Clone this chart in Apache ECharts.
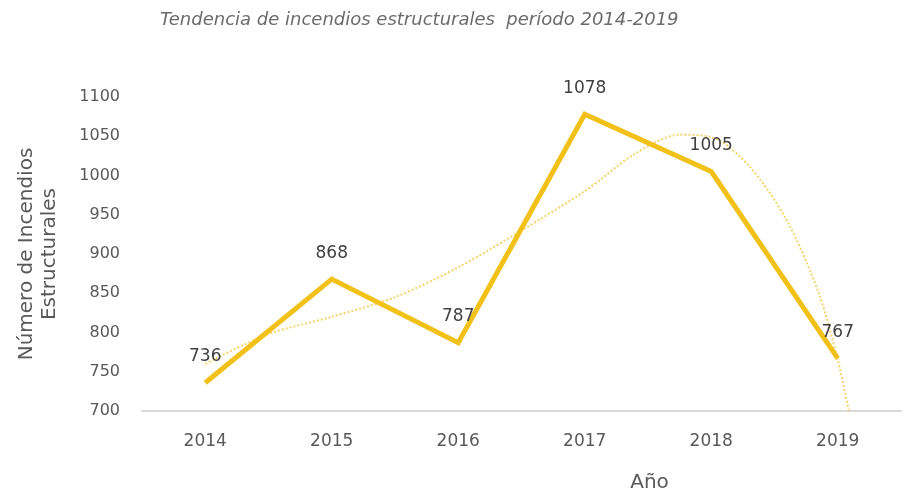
<!DOCTYPE html>
<html>
<head>
<meta charset="utf-8">
<script src="https://cdn.jsdelivr.net/npm/echarts@6/dist/echarts.min.js"></script>
<style>html,body{margin:0;padding:0;background:#fff}#c{width:913px;height:493px}</style>
</head>
<body>
<div id="c"></div>
<script>
var years = ['2014', '2015', '2016', '2017', '2018', '2019'];
var incendios = [736, 868, 787, 1078, 1005, 767];
// dotted polynomial trend line at (year position, value)
var trendX = [2014.0, 2014.5, 2015.0, 2015.5, 2016.0, 2016.5, 2017.0, 2017.4, 2017.75, 2018.0, 2018.3, 2018.6, 2018.85, 2019.0, 2019.1];
var trendY = [760, 798, 820, 845, 883, 930, 980, 1028, 1052, 1049, 1012, 942, 850, 765, 690];
var yTicks = { min: 700, max: 1100, interval: 50 };

var trend = trendX.map(function (x, i) { return [x, trendY[i]]; });

var chart = echarts.init(document.getElementById('c'));
chart.setOption({
  backgroundColor: '#fff',
  animation: false,
  title: {
    text: 'Tendencia de incendios estructurales  período 2014-2019',
    left: 155, top: 6,
    textStyle: { fontFamily: 'DejaVu Sans', fontStyle: 'italic', fontWeight: 'normal', fontSize: 18, color: '#6b6b6b' }
  },
  grid: { left: 142, right: 12, top: 97, bottom: 82, containLabel: false, outerBoundsMode: 'none' },
  xAxis: [{
    type: 'category',
    data: years,
    boundaryGap: true,
    axisLine: { lineStyle: { color: '#d9d9d9', width: 2 } },
    axisTick: { show: false },
    axisLabel: { color: '#595959', fontFamily: 'DejaVu Sans', fontSize: 17, margin: 22 },
    name: 'Año',
    nameLocation: 'middle',
    nameGap: 62,
    nameTextStyle: { color: '#595959', fontFamily: 'DejaVu Sans', fontSize: 20, padding: [0, 0, 0, 256] }
  }, {
    type: 'value',
    min: 2013.5, max: 2019.5,
    show: false
  }],
  yAxis: {
    type: 'value',
    min: yTicks.min, max: yTicks.max, interval: yTicks.interval,
    axisLine: { show: false },
    axisTick: { show: false },
    splitLine: { show: false },
    axisLabel: {
      color: '#595959', fontFamily: 'DejaVu Sans', fontSize: 16, margin: 22,
      formatter: function (v) { return String(v); }
    },
    name: 'Número de Incendios\nEstructurales',
    nameLocation: 'middle',
    nameGap: 81,
    nameTextStyle: { color: '#595959', fontFamily: 'DejaVu Sans', fontSize: 20, lineHeight: 23 }
  },
  series: [{
    type: 'line',
    xAxisIndex: 1,
    data: trend,
    smooth: 0.3,
    symbol: 'none',
    clip: true,
    z: 1,
    lineStyle: { color: '#f7d36a', width: 2, type: 'dotted' }
  }, {
    type: 'line',
    xAxisIndex: 0,
    data: incendios,
    symbol: 'circle',
    symbolSize: 1,
    showSymbol: true,
    itemStyle: { color: '#f2c118', opacity: 0 },
    z: 2,
    lineStyle: { color: '#f2c118', width: 5, join: 'miter' },
    label: {
      show: true, position: 'top', distance: 17, opacity: 1,
      color: '#404040', fontFamily: 'DejaVu Sans', fontSize: 17
    }
  }]
});
</script>
</body>
</html>
